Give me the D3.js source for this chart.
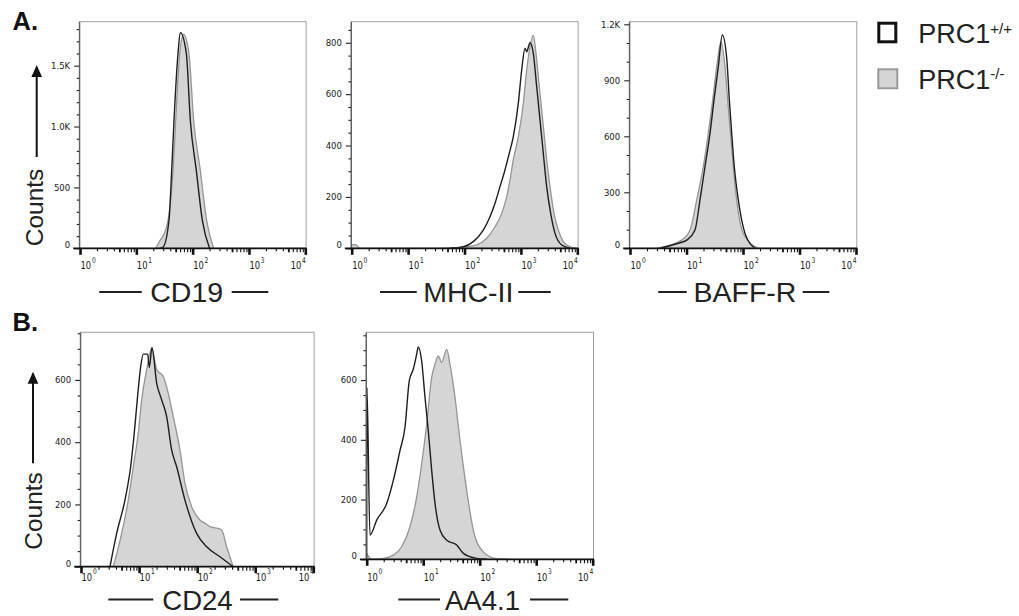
<!DOCTYPE html>
<html><head><meta charset="utf-8">
<script src="https://cdn.jsdelivr.net/npm/d3@7"></script>
<style>body{margin:0;background:#fff} svg{display:block}</style>
</head><body>
<svg id="c" width="1019" height="616"></svg>
<script>
// ---------- DATA (x = log10 fluorescence, y = counts) ----------
const xExps = [0, 1, 2, 3, 4];
const seriesNames = ["PRC1", "PRC1"];
const seriesSups = ["+/+", "-/-"];
const markers = ["CD19", "MHC-II", "BAFF-R", "CD24", "AA4.1"];

const cd19YTicks = [0, 500, 1000, 1500];
const mhcYTicks = [0, 200, 400, 600, 800];
const baffYTicks = [0, 300, 600, 900, 1200];
const cd24YTicks = [0, 200, 400, 600];
const aa41YTicks = [0, 200, 400, 600];

const cd19Wt = [[1.416,0],[1.474,10],[1.58,230],[1.628,640],[1.669,1050],[1.74,1600],[1.782,1770],[1.888,1600],[1.959,1050],[2.065,640],[2.172,230],[2.30,0]];
const cd19Ko = [[1.345,0],[1.416,60],[1.52,150],[1.575,260],[1.652,640],[1.699,1050],[1.77,1600],[1.84,1757],[1.935,1600],[2.018,1050],[2.136,640],[2.248,230],[2.372,0]];

const mhcWt = [[1.743,0],[1.979,6],[2.156,26],[2.333,71],[2.452,123],[2.541,175],[2.629,240],[2.718,305],[2.794,370],[2.865,434],[2.954,564],[3.014,694],[3.073,778],[3.103,765],[3.161,800],[3.22,759],[3.28,629],[3.339,499],[3.397,370],[3.457,240],[3.528,136],[3.605,58],[3.723,13],[3.871,0]];
const mhcKo = [[0,12],[0.06,15],[0.15,0],[1.566,0],[1.979,4],[2.216,13],[2.394,39],[2.541,84],[2.66,136],[2.748,201],[2.807,266],[2.865,344],[2.954,434],[3.043,564],[3.103,694],[3.161,784],[3.22,830],[3.268,759],[3.326,629],[3.387,499],[3.445,370],[3.516,240],[3.587,136],[3.663,71],[3.752,26],[3.871,6],[3.989,0]];

const baffWt = [[0.531,0],[0.855,27],[1.004,44],[1.15,98],[1.239,259],[1.327,437],[1.416,616],[1.487,795],[1.563,973],[1.634,1143],[1.712,1018],[1.758,795],[1.8,616],[1.846,437],[1.917,259],[2.035,80],[2.212,0]];
const baffKo = [[0.473,0],[0.915,44],[1.062,98],[1.181,259],[1.297,437],[1.386,616],[1.464,795],[1.535,973],[1.611,1107],[1.681,973],[1.729,795],[1.779,616],[1.828,437],[1.888,259],[2.005,80],[2.271,0]];

const cd24Wt = [[0.499,0],[0.614,107],[0.757,214],[0.855,321],[0.917,429],[0.969,536],[1.028,643],[1.072,683],[1.148,683],[1.176,640],[1.222,704],[1.303,590],[1.389,536],[1.475,482],[1.561,375],[1.647,321],[1.79,214],[1.991,107],[2.164,64],[2.393,32],[2.621,0]];
const cd24Ko = [[0.556,0],[0.7,107],[0.814,214],[0.9,321],[0.986,429],[1.045,536],[1.131,633],[1.217,702],[1.303,633],[1.417,611],[1.503,557],[1.589,482],[1.704,375],[1.79,268],[1.905,193],[2.048,150],[2.134,140],[2.22,129],[2.306,125],[2.422,118],[2.508,64],[2.621,0]];

const aa41Wt = [[0,0],[0.004,575],[0.058,81],[0.177,131],[0.354,187],[0.471,264],[0.589,364],[0.678,442],[0.754,598],[0.825,637],[0.885,687],[0.913,711],[0.973,664],[1.032,542],[1.09,431],[1.15,298],[1.209,187],[1.297,98],[1.416,64],[1.593,48],[1.71,20],[1.947,3],[2.124,0]];
const aa41Ko = [[0,20],[0.088,0],[0.294,3],[0.471,14],[0.619,42],[0.766,109],[0.885,209],[0.973,320],[1.062,453],[1.15,609],[1.209,653],[1.267,681],[1.327,659],[1.416,703],[1.474,653],[1.563,542],[1.651,398],[1.77,231],[1.887,98],[2.064,25],[2.301,2],[2.536,0]];

// ---------- LAYOUT ----------
const FONT = '"Liberation Sans", Arial, Helvetica, sans-serif';
const TICKFONT = '"DejaVu Sans", Verdana, sans-serif';
const KO_FILL = "#d5d5d5", KO_LINE = "#959595", WT_LINE = "#1e1e1e", TXT = "#222";

const panels = [
  {wt: cd19Wt, ko: cd19Ko, yTicks: cd19YTicks, minor: 100, ymax: 1861, title: markers[0], lby: 269.3,
   x0: 80, x1: 305.3, yb: 248.3, yt: 21.7, tcx: 186.7, tby: 302, fs: 28.5, lines: [[99.3,141.7],[231.7,268.3]]},
  {wt: mhcWt, ko: mhcKo, yTicks: mhcYTicks, minor: 50, ymax: 882, title: markers[1], lby: 269.3,
   x0: 351.7, x1: 577.3, yb: 248.3, yt: 21.7, tcx: 468.3, tby: 302, fs: 28.5, lines: [[380,416.7],[518.3,550.7]]},
  {wt: baffWt, ko: baffKo, yTicks: baffYTicks, minor: 100, ymax: 1214, title: markers[2], lby: 269.3,
   x0: 630, x1: 856, yb: 248.3, yt: 21.7, tcx: 745, tby: 302, fs: 28.5, lines: [[658.3,686.7],[802.7,829.3]]},
  {wt: cd24Wt, ko: cd24Ko, yTicks: cd24YTicks, minor: 50, ymax: 753, title: markers[3], lby: 581,
   x0: 81, x1: 313.3, yb: 566.7, yt: 332.3, tcx: 197.5, tby: 609.5, fs: 27.5, lines: [[108.3,153.3],[240,278.3]]},
  {wt: aa41Wt, ko: aa41Ko, yTicks: aa41YTicks, minor: 50, ymax: 760, title: markers[4], lby: 580.5,
   x0: 366.7, x1: 592.7, yb: 559.3, yt: 332.3, tcx: 482.5, tby: 609.5, fs: 27.5, lines: [[398.3,440],[530,568.3]]}
];

const svg = d3.select("#c");
svg.append("rect").attr("width", 1019).attr("height", 616).attr("fill", "#fff");

const fmtY = v => v >= 1000 ? (v / 1000).toFixed(1) + "K" : String(v);

function drawPanel(p) {
  const x = d3.scaleLinear().domain([0, 4]).range([p.x0, p.x1]);
  const y = d3.scaleLinear().domain([0, p.ymax]).range([p.yb, p.yt]);
  const g = svg.append("g");
  const fl = x(0) - 0.8, fr = x(4) + 0.8;

  const area = d3.area().x(d => x(d[0])).y0(y(0)).y1(d => y(d[1])).curve(d3.curveMonotoneX);
  const line = d3.line().x(d => x(d[0])).y(d => y(d[1])).curve(d3.curveMonotoneX);

  g.append("path").datum(p.ko).attr("d", area).attr("fill", KO_FILL);
  g.append("path").datum(p.ko).attr("d", line).attr("fill", "none")
    .attr("stroke", KO_LINE).attr("stroke-width", 1.3).attr("stroke-linejoin", "round");
  g.append("path").datum(p.wt).attr("d", line).attr("fill", "none")
    .attr("stroke", WT_LINE).attr("stroke-width", 1.4).attr("stroke-linejoin", "round");

  // frame
  g.append("rect").attr("x", fl).attr("y", p.yt).attr("width", fr - fl).attr("height", p.yb - p.yt)
    .attr("fill", "none").attr("stroke", "#a0a0a0").attr("stroke-width", 1);

  // y axis (major + minor ticks)
  const minorVals = d3.range(0, p.ymax + 0.001, p.minor).filter(v => !p.yTicks.includes(v));
  const yMinor = g.append("g").attr("transform", `translate(${fl},0)`)
    .call(d3.axisLeft(y).tickValues(minorVals).tickSize(2.5).tickSizeOuter(0).tickFormat(""));
  const yMajor = g.append("g").attr("transform", `translate(${fl},0)`)
    .call(d3.axisLeft(y).tickValues(p.yTicks).tickSize(5).tickSizeOuter(0).tickPadding(4).tickFormat(fmtY));
  [yMinor, yMajor].forEach(a => {
    a.select(".domain").attr("stroke", "#555").attr("stroke-width", 0.8);
    a.selectAll(".tick line").attr("stroke", "#222").attr("stroke-width", 1.1);
  });
  yMajor.selectAll(".tick text").attr("font-family", TICKFONT).attr("font-size", 8.5).attr("fill", "#1a1a1a")
    .attr("dy", d => d === 0 ? "-0.05em" : "0.32em");

  // x axis (log decades with minor ticks)
  const xMinor = [];
  for (let k = 0; k < 4; k++) for (let m = 2; m <= 9; m++) xMinor.push(k + Math.log10(m));
  const xa1 = g.append("g").attr("transform", `translate(0,${p.yb})`)
    .call(d3.axisBottom(x).tickValues(xMinor).tickSize(3).tickSizeOuter(0).tickFormat(""));
  xa1.selectAll(".tick line").attr("stroke", "#111")
    .attr("stroke-width", d => Math.abs(d % 1 - Math.log10(5)) < 0.01 ? 1.8 : 1.1)
    .attr("y2", d => (d % 1) > 0.65 ? 4 : 3);
  const xa2 = g.append("g").attr("transform", `translate(0,${p.yb})`)
    .call(d3.axisBottom(x).tickValues(xExps).tickSize(6.5).tickSizeOuter(0).tickFormat(""));
  xa2.selectAll(".tick line").attr("stroke", "#111").attr("stroke-width", 2.6);
  [xa1, xa2].forEach(a => a.select(".domain").remove());
  g.append("line").attr("x1", fl - 6).attr("x2", fr + 0.5).attr("y1", p.yb).attr("y2", p.yb)
    .attr("stroke", "#111").attr("stroke-width", 1.8);

  xExps.forEach(k => {
    const tx = x(k) + 0.5;
    const t = g.append("text")
      .attr("transform", `translate(${tx},${p.lby}) scale(0.76,1)`)
      .attr("text-anchor", k < 4 ? "start" : "end")
      .attr("font-family", TICKFONT).attr("font-size", 11).attr("fill", "#1a1a1a");
    t.append("tspan").text("10");
    t.append("tspan").attr("dy", -6.6).attr("dx", 1).attr("font-size", 7.8).text(k);
  });

  // axis title with dashes
  g.append("text").attr("x", p.tcx).attr("y", p.tby).attr("text-anchor", "middle")
    .attr("font-family", FONT).attr("font-size", p.fs).attr("fill", TXT).text(p.title);
  p.lines.forEach(l => g.append("line").attr("x1", l[0]).attr("x2", l[1])
    .attr("y1", p.tby - 10).attr("y2", p.tby - 10).attr("stroke", TXT).attr("stroke-width", 2));
}
panels.forEach(drawPanel);

// panel letters
svg.append("text").attr("x", 12.5).attr("y", 30).attr("font-family", FONT).attr("font-weight", "bold")
  .attr("font-size", 25.5).attr("fill", "#111").text("A.");
svg.append("text").attr("x", 12.5).attr("y", 330.5).attr("font-family", FONT).attr("font-weight", "bold")
  .attr("font-size", 25.5).attr("fill", "#111").text("B.");

// "Counts" labels with arrows
function counts(bx, cy, ax, yTop, yBot) {
  svg.append("text").attr("transform", `translate(${bx},${cy}) rotate(-90)`).attr("text-anchor", "middle")
    .attr("font-family", FONT).attr("font-size", 24.5).attr("fill", TXT).text("Counts");
  svg.append("line").attr("x1", ax).attr("x2", ax).attr("y1", yBot).attr("y2", yTop + 10)
    .attr("stroke", "#111").attr("stroke-width", 2);
  svg.append("path").attr("d", `M${ax},${yTop} L${ax - 5.3},${yTop + 12} L${ax + 5.3},${yTop + 12} Z`).attr("fill", "#111");
}
counts(43.3, 207.5, 36.7, 65, 157);
counts(41.7, 511, 33, 371.7, 463.3);

// legend
const lg = svg.append("g");
lg.append("rect").attr("x", 878.8).attr("y", 23.2).attr("width", 17).attr("height", 18.6)
  .attr("fill", "#fff").attr("stroke", "#111").attr("stroke-width", 3);
lg.append("rect").attr("x", 878.3).attr("y", 69.3).attr("width", 19).attr("height", 19)
  .attr("fill", KO_FILL).attr("stroke", "#9a9a9a").attr("stroke-width", 2);
[43, 88.5].forEach((by, i) => {
  const t = lg.append("text").attr("x", 918.3).attr("y", by).attr("font-family", FONT)
    .attr("font-size", 27).attr("fill", TXT);
  t.append("tspan").text(seriesNames[i]);
  t.append("tspan").attr("dy", -9.5).attr("font-size", 15).text(seriesSups[i]);
});
</script>
</body></html>
